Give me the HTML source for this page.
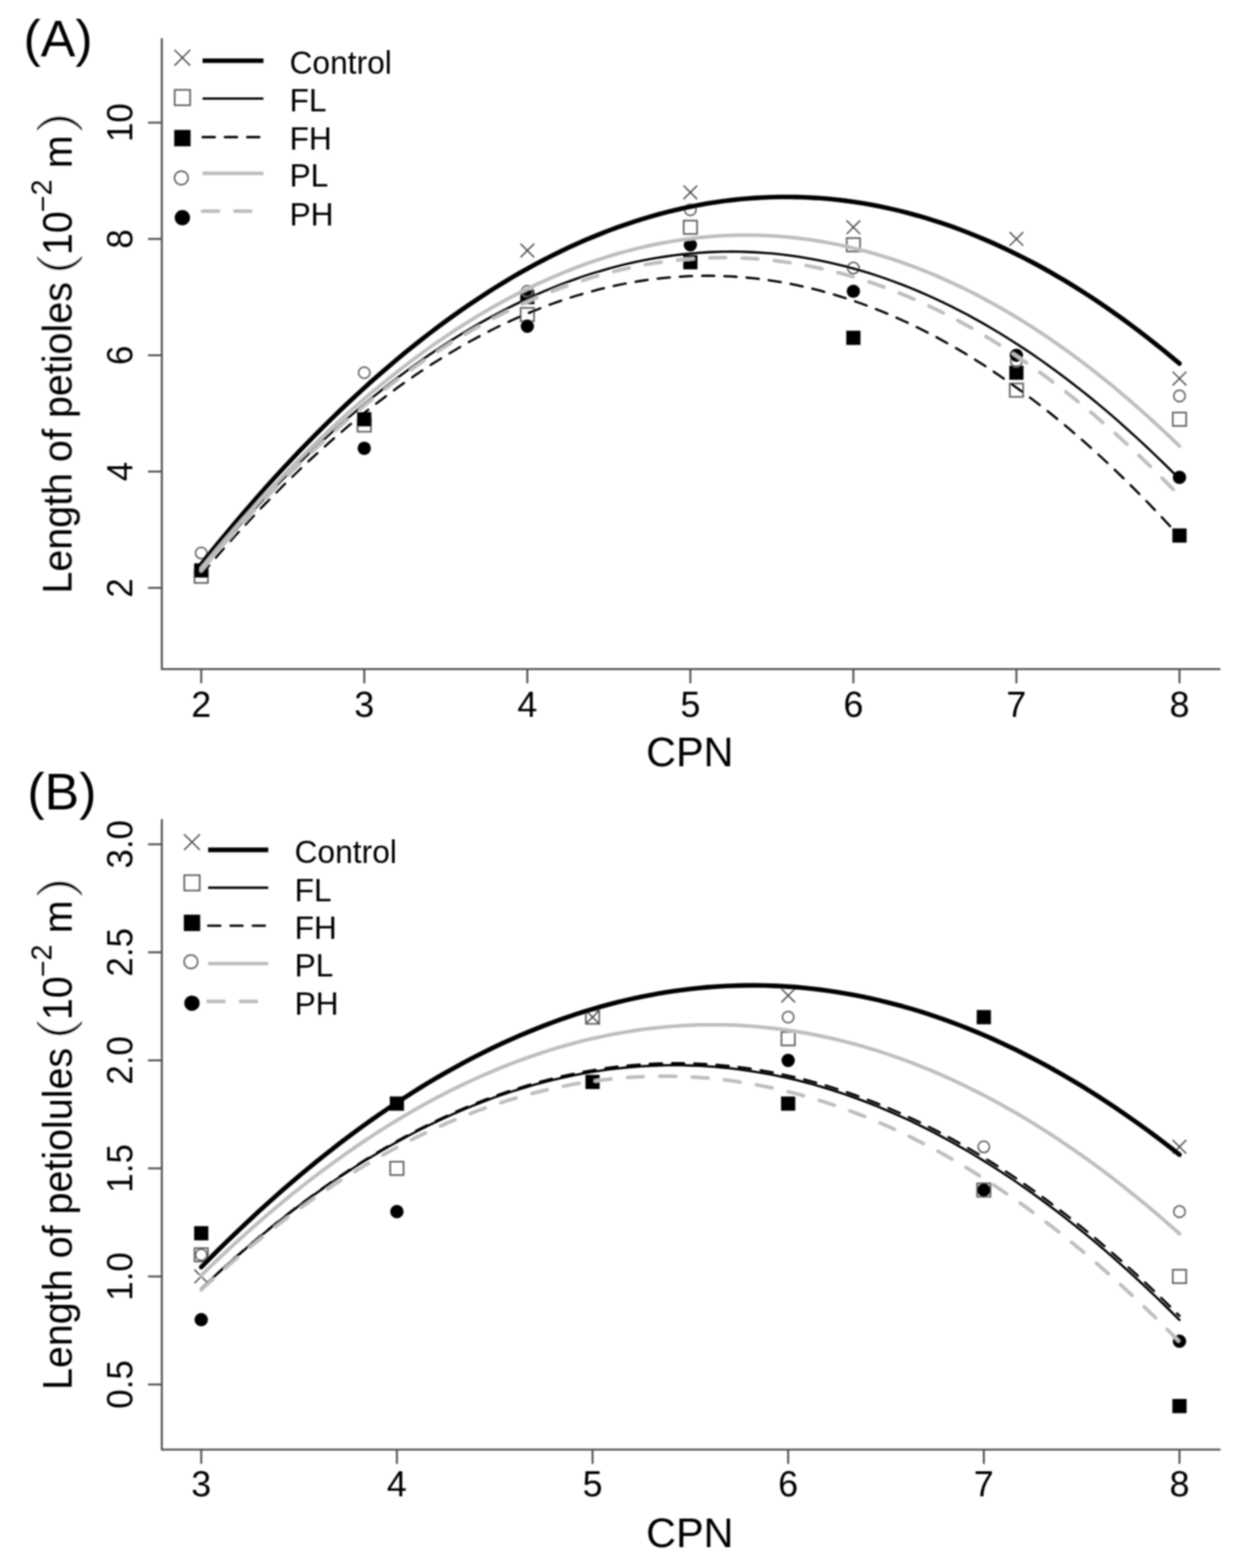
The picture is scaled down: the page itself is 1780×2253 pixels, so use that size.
<!DOCTYPE html><html><head><meta charset="utf-8"><title>Length of petioles and petiolules vs CPN</title><style>html,body{margin:0;padding:0;background:#fff;}svg{display:block;}text{font-family:"Liberation Sans", Arial, Helvetica, sans-serif;fill:#000;}</style></head><body>
<svg width="1780" height="2253" viewBox="0 0 1780 2253">
<defs><filter id="soft" filterUnits="userSpaceOnUse" x="0" y="0" width="1780" height="2253"><feGaussianBlur stdDeviation="1.0"/></filter></defs>
<rect width="1780" height="2253" fill="#fff"/>
<g filter="url(#soft)">
<g id="panelA">
<path d="M232.5,56.3V961.3H1752.0" stroke="#505050" stroke-width="2.8" fill="none" stroke-linecap="square"/>
<path d="M232.5,844.7H212.7" stroke="#505050" stroke-width="2.8"/>
<path d="M232.5,677.6H212.7" stroke="#505050" stroke-width="2.8"/>
<path d="M232.5,510.5H212.7" stroke="#505050" stroke-width="2.8"/>
<path d="M232.5,343.3H212.7" stroke="#505050" stroke-width="2.8"/>
<path d="M232.5,176.2H212.7" stroke="#505050" stroke-width="2.8"/>
<path d="M289.1,961.3V981.8" stroke="#505050" stroke-width="2.8"/>
<path d="M523.3,961.3V981.8" stroke="#505050" stroke-width="2.8"/>
<path d="M757.6,961.3V981.8" stroke="#505050" stroke-width="2.8"/>
<path d="M991.8,961.3V981.8" stroke="#505050" stroke-width="2.8"/>
<path d="M1226.0,961.3V981.8" stroke="#505050" stroke-width="2.8"/>
<path d="M1460.2,961.3V981.8" stroke="#505050" stroke-width="2.8"/>
<path d="M1694.5,961.3V981.8" stroke="#505050" stroke-width="2.8"/>
<text x="289.1" y="1029.6" font-size="51.5" text-anchor="middle">2</text>
<text x="523.3" y="1029.6" font-size="51.5" text-anchor="middle">3</text>
<text x="757.6" y="1029.6" font-size="51.5" text-anchor="middle">4</text>
<text x="991.8" y="1029.6" font-size="51.5" text-anchor="middle">5</text>
<text x="1226.0" y="1029.6" font-size="51.5" text-anchor="middle">6</text>
<text x="1460.2" y="1029.6" font-size="51.5" text-anchor="middle">7</text>
<text x="1694.5" y="1029.6" font-size="51.5" text-anchor="middle">8</text>
<text transform="translate(189.6,844.7) rotate(-90) scale(0.965,1.01)" font-size="52" text-anchor="middle">2</text>
<text transform="translate(189.6,677.6) rotate(-90) scale(0.965,1.01)" font-size="52" text-anchor="middle">4</text>
<text transform="translate(189.6,510.5) rotate(-90) scale(0.965,1.01)" font-size="52" text-anchor="middle">6</text>
<text transform="translate(189.6,343.3) rotate(-90) scale(0.965,1.01)" font-size="52" text-anchor="middle">8</text>
<text transform="translate(189.6,176.2) rotate(-90) scale(0.965,1.01)" font-size="52" text-anchor="middle">10</text>
<text x="991" y="1100.6" font-size="59.5" text-anchor="middle">CPN</text>
<text transform="translate(102.8,852.9) rotate(-90) scale(1.0,1.04)" font-size="56.7">Length of petioles</text>
<text transform="translate(104.2,395.6) rotate(-90) scale(1.3,1.0)" font-size="73" stroke="#fff" stroke-width="2.2">(</text>
<text transform="translate(102.6,366.5) rotate(-90) scale(1.0,1.03)" font-size="56.7">10</text>
<text transform="translate(76.4,304.9) rotate(-90) scale(1.0,1.03)" font-size="41">−</text>
<text transform="translate(73.9,280.7) rotate(-90) scale(1.0,1.03)" font-size="41">2</text>
<text transform="translate(103.0,241.7) rotate(-90) scale(1.0,1.04)" font-size="56.7">m</text>
<text transform="translate(104.2,191.8) rotate(-90) scale(1.3,1.0)" font-size="73" stroke="#fff" stroke-width="2.2">)</text>
<text x="33.8" y="81.0" font-size="74.5">(A)</text>
<path d="M747.8,350.2L767.4,369.8M747.8,369.8L767.4,350.2" stroke="#4a4a4a" stroke-width="2.0" fill="none"/>
<path d="M982.0,266.7L1001.6,286.3M982.0,286.3L1001.6,266.7" stroke="#4a4a4a" stroke-width="2.0" fill="none"/>
<path d="M1216.2,316.8L1235.8,336.4M1216.2,336.4L1235.8,316.8" stroke="#4a4a4a" stroke-width="2.0" fill="none"/>
<path d="M1450.5,333.5L1470.0,353.1M1450.5,353.1L1470.0,333.5" stroke="#4a4a4a" stroke-width="2.0" fill="none"/>
<path d="M1684.7,534.1L1704.3,553.7M1684.7,553.7L1704.3,534.1" stroke="#4a4a4a" stroke-width="2.0" fill="none"/>
<rect x="279.5" y="818.4" width="19.2" height="19.2" stroke="#606060" stroke-width="2.4" fill="none"/>
<rect x="513.7" y="601.1" width="19.2" height="19.2" stroke="#606060" stroke-width="2.4" fill="none"/>
<rect x="748.0" y="442.4" width="19.2" height="19.2" stroke="#606060" stroke-width="2.4" fill="none"/>
<rect x="982.2" y="317.0" width="19.2" height="19.2" stroke="#606060" stroke-width="2.4" fill="none"/>
<rect x="1216.4" y="342.1" width="19.2" height="19.2" stroke="#606060" stroke-width="2.4" fill="none"/>
<rect x="1450.7" y="551.0" width="19.2" height="19.2" stroke="#606060" stroke-width="2.4" fill="none"/>
<rect x="1684.9" y="592.8" width="19.2" height="19.2" stroke="#606060" stroke-width="2.4" fill="none"/>
<rect x="278.9" y="809.4" width="20.4" height="20.4" fill="#000"/>
<rect x="513.1" y="592.2" width="20.4" height="20.4" fill="#000"/>
<rect x="747.4" y="416.7" width="20.4" height="20.4" fill="#000"/>
<rect x="981.6" y="366.6" width="20.4" height="20.4" fill="#000"/>
<rect x="1215.8" y="475.2" width="20.4" height="20.4" fill="#000"/>
<rect x="1450.0" y="525.3" width="20.4" height="20.4" fill="#000"/>
<rect x="1684.3" y="759.3" width="20.4" height="20.4" fill="#000"/>
<circle cx="289.1" cy="794.6" r="8.2" stroke="#606060" stroke-width="2.2" fill="none"/>
<circle cx="523.3" cy="535.5" r="8.2" stroke="#606060" stroke-width="2.2" fill="none"/>
<circle cx="757.6" cy="418.5" r="8.2" stroke="#606060" stroke-width="2.2" fill="none"/>
<circle cx="991.8" cy="301.5" r="8.2" stroke="#606060" stroke-width="2.2" fill="none"/>
<circle cx="1226.0" cy="385.1" r="8.2" stroke="#606060" stroke-width="2.2" fill="none"/>
<circle cx="1460.2" cy="518.8" r="8.2" stroke="#606060" stroke-width="2.2" fill="none"/>
<circle cx="1694.5" cy="568.9" r="8.2" stroke="#606060" stroke-width="2.2" fill="none"/>
<circle cx="289.1" cy="819.6" r="9.6" fill="#000"/>
<circle cx="523.3" cy="644.1" r="9.6" fill="#000"/>
<circle cx="757.6" cy="468.7" r="9.6" fill="#000"/>
<circle cx="991.8" cy="351.7" r="9.6" fill="#000"/>
<circle cx="1226.0" cy="418.5" r="9.6" fill="#000"/>
<circle cx="1460.2" cy="510.5" r="9.6" fill="#000"/>
<circle cx="1694.5" cy="685.9" r="9.6" fill="#000"/>
<polyline points="289.1,810.7 300.8,796.1 312.5,781.7 324.2,767.5 335.9,753.5 347.7,739.7 359.4,726.1 371.1,712.7 382.8,699.5 394.5,686.5 406.2,673.8 417.9,661.2 429.6,648.8 441.3,636.7 453.1,624.7 464.8,613.0 476.5,601.5 488.2,590.1 499.9,579.0 511.6,568.1 523.3,557.4 535.0,546.8 546.8,536.5 558.5,526.4 570.2,516.5 581.9,506.8 593.6,497.4 605.3,488.1 617.0,479.0 628.7,470.1 640.4,461.5 652.2,453.0 663.9,444.8 675.6,436.7 687.3,428.9 699.0,421.2 710.7,413.8 722.4,406.6 734.1,399.5 745.8,392.7 757.6,386.1 769.3,379.7 781.0,373.5 792.7,367.5 804.4,361.7 816.1,356.1 827.8,350.8 839.5,345.6 851.3,340.6 863.0,335.9 874.7,331.3 886.4,326.9 898.1,322.8 909.8,318.9 921.5,315.1 933.2,311.6 944.9,308.3 956.7,305.1 968.4,302.2 980.1,299.5 991.8,297.0 1003.5,294.7 1015.2,292.6 1026.9,290.7 1038.6,289.0 1050.3,287.6 1062.1,286.3 1073.8,285.2 1085.5,284.4 1097.2,283.7 1108.9,283.2 1120.6,283.0 1132.3,283.0 1144.0,283.1 1155.8,283.5 1167.5,284.1 1179.2,284.8 1190.9,285.8 1202.6,287.0 1214.3,288.4 1226.0,290.0 1237.7,291.8 1249.4,293.8 1261.2,296.1 1272.9,298.5 1284.6,301.1 1296.3,303.9 1308.0,307.0 1319.7,310.2 1331.4,313.7 1343.1,317.3 1354.8,321.2 1366.6,325.2 1378.3,329.5 1390.0,334.0 1401.7,338.7 1413.4,343.6 1425.1,348.6 1436.8,353.9 1448.5,359.4 1460.2,365.2 1472.0,371.1 1483.7,377.2 1495.4,383.5 1507.1,390.0 1518.8,396.8 1530.5,403.7 1542.2,410.9 1553.9,418.2 1565.7,425.8 1577.4,433.5 1589.1,441.5 1600.8,449.7 1612.5,458.0 1624.2,466.6 1635.9,475.4 1647.6,484.4 1659.3,493.6 1671.1,503.0 1682.8,512.6 1694.5,522.4" fill="none" stroke="#000" stroke-width="6.6" stroke-linecap="round" stroke-linejoin="round"/>
<polyline points="289.1,818.5 300.8,804.6 312.5,790.8 324.2,777.3 335.9,764.0 347.7,750.9 359.4,738.1 371.1,725.4 382.8,713.0 394.5,700.8 406.2,688.7 417.9,677.0 429.6,665.4 441.3,654.0 453.1,642.9 464.8,632.0 476.5,621.3 488.2,610.8 499.9,600.5 511.6,590.5 523.3,580.6 535.0,571.0 546.8,561.6 558.5,552.4 570.2,543.4 581.9,534.7 593.6,526.1 605.3,517.8 617.0,509.7 628.7,501.8 640.4,494.1 652.2,486.6 663.9,479.4 675.6,472.4 687.3,465.5 699.0,459.0 710.7,452.6 722.4,446.4 734.1,440.5 745.8,434.7 757.6,429.2 769.3,423.9 781.0,418.8 792.7,414.0 804.4,409.3 816.1,404.9 827.8,400.6 839.5,396.6 851.3,392.9 863.0,389.3 874.7,385.9 886.4,382.8 898.1,379.9 909.8,377.2 921.5,374.7 933.2,372.4 944.9,370.3 956.7,368.5 968.4,366.9 980.1,365.5 991.8,364.3 1003.5,363.3 1015.2,362.5 1026.9,362.0 1038.6,361.7 1050.3,361.5 1062.1,361.7 1073.8,362.0 1085.5,362.5 1097.2,363.3 1108.9,364.2 1120.6,365.4 1132.3,366.8 1144.0,368.4 1155.8,370.3 1167.5,372.3 1179.2,374.6 1190.9,377.1 1202.6,379.8 1214.3,382.7 1226.0,385.8 1237.7,389.2 1249.4,392.7 1261.2,396.5 1272.9,400.5 1284.6,404.7 1296.3,409.1 1308.0,413.8 1319.7,418.6 1331.4,423.7 1343.1,429.0 1354.8,434.5 1366.6,440.2 1378.3,446.2 1390.0,452.3 1401.7,458.7 1413.4,465.3 1425.1,472.1 1436.8,479.1 1448.5,486.4 1460.2,493.8 1472.0,501.5 1483.7,509.4 1495.4,517.5 1507.1,525.8 1518.8,534.3 1530.5,543.1 1542.2,552.1 1553.9,561.2 1565.7,570.6 1577.4,580.3 1589.1,590.1 1600.8,600.1 1612.5,610.4 1624.2,620.9 1635.9,631.6 1647.6,642.5 1659.3,653.6 1671.1,665.0 1682.8,676.5 1694.5,688.3" fill="none" stroke="#000" stroke-width="3.3" stroke-linecap="round" stroke-linejoin="round"/>
<polyline points="289.1,825.6 300.8,811.9 312.5,798.4 324.2,785.1 335.9,772.0 347.7,759.2 359.4,746.6 371.1,734.2 382.8,722.0 394.5,710.1 406.2,698.4 417.9,686.9 429.6,675.6 441.3,664.5 453.1,653.7 464.8,643.1 476.5,632.7 488.2,622.6 499.9,612.6 511.6,602.9 523.3,593.4 535.0,584.2 546.8,575.1 558.5,566.3 570.2,557.7 581.9,549.3 593.6,541.2 605.3,533.2 617.0,525.5 628.7,518.1 640.4,510.8 652.2,503.8 663.9,496.9 675.6,490.4 687.3,484.0 699.0,477.8 710.7,471.9 722.4,466.2 734.1,460.8 745.8,455.5 757.6,450.5 769.3,445.7 781.0,441.1 792.7,436.7 804.4,432.6 816.1,428.7 827.8,425.0 839.5,421.5 851.3,418.3 863.0,415.2 874.7,412.4 886.4,409.9 898.1,407.5 909.8,405.4 921.5,403.5 933.2,401.8 944.9,400.3 956.7,399.1 968.4,398.1 980.1,397.3 991.8,396.7 1003.5,396.4 1015.2,396.2 1026.9,396.3 1038.6,396.7 1050.3,397.2 1062.1,398.0 1073.8,399.0 1085.5,400.2 1097.2,401.6 1108.9,403.3 1120.6,405.2 1132.3,407.3 1144.0,409.6 1155.8,412.2 1167.5,414.9 1179.2,417.9 1190.9,421.2 1202.6,424.6 1214.3,428.3 1226.0,432.2 1237.7,436.3 1249.4,440.6 1261.2,445.2 1272.9,449.9 1284.6,455.0 1296.3,460.2 1308.0,465.6 1319.7,471.3 1331.4,477.2 1343.1,483.3 1354.8,489.7 1366.6,496.2 1378.3,503.0 1390.0,510.0 1401.7,517.3 1413.4,524.7 1425.1,532.4 1436.8,540.3 1448.5,548.5 1460.2,556.8 1472.0,565.4 1483.7,574.2 1495.4,583.2 1507.1,592.4 1518.8,601.9 1530.5,611.6 1542.2,621.5 1553.9,631.6 1565.7,642.0 1577.4,652.6 1589.1,663.4 1600.8,674.4 1612.5,685.7 1624.2,697.1 1635.9,708.8 1647.6,720.7 1659.3,732.9 1671.1,745.3 1682.8,757.8 1694.5,770.7" fill="none" stroke="#000" stroke-width="3.3" stroke-linecap="round" stroke-linejoin="round" stroke-dasharray="17.7 14.3"/>
<polyline points="289.1,816.8 300.8,802.6 312.5,788.5 324.2,774.8 335.9,761.2 347.7,747.8 359.4,734.6 371.1,721.7 382.8,709.0 394.5,696.5 406.2,684.2 417.9,672.1 429.6,660.2 441.3,648.6 453.1,637.1 464.8,625.9 476.5,614.9 488.2,604.1 499.9,593.5 511.6,583.2 523.3,573.0 535.0,563.1 546.8,553.4 558.5,543.9 570.2,534.6 581.9,525.5 593.6,516.6 605.3,508.0 617.0,499.5 628.7,491.3 640.4,483.3 652.2,475.5 663.9,468.0 675.6,460.6 687.3,453.4 699.0,446.5 710.7,439.8 722.4,433.3 734.1,427.0 745.8,420.9 757.6,415.1 769.3,409.4 781.0,404.0 792.7,398.8 804.4,393.8 816.1,389.0 827.8,384.4 839.5,380.0 851.3,375.9 863.0,372.0 874.7,368.2 886.4,364.7 898.1,361.4 909.8,358.4 921.5,355.5 933.2,352.9 944.9,350.4 956.7,348.2 968.4,346.2 980.1,344.4 991.8,342.9 1003.5,341.5 1015.2,340.4 1026.9,339.4 1038.6,338.7 1050.3,338.2 1062.1,337.9 1073.8,337.9 1085.5,338.0 1097.2,338.4 1108.9,338.9 1120.6,339.7 1132.3,340.7 1144.0,341.9 1155.8,343.4 1167.5,345.0 1179.2,346.9 1190.9,349.0 1202.6,351.2 1214.3,353.7 1226.0,356.5 1237.7,359.4 1249.4,362.5 1261.2,365.9 1272.9,369.5 1284.6,373.3 1296.3,377.3 1308.0,381.5 1319.7,385.9 1331.4,390.6 1343.1,395.4 1354.8,400.5 1366.6,405.8 1378.3,411.3 1390.0,417.0 1401.7,422.9 1413.4,429.1 1425.1,435.5 1436.8,442.0 1448.5,448.8 1460.2,455.8 1472.0,463.1 1483.7,470.5 1495.4,478.1 1507.1,486.0 1518.8,494.1 1530.5,502.4 1542.2,510.9 1553.9,519.6 1565.7,528.5 1577.4,537.7 1589.1,547.1 1600.8,556.6 1612.5,566.4 1624.2,576.4 1635.9,586.7 1647.6,597.1 1659.3,607.7 1671.1,618.6 1682.8,629.7 1694.5,641.0" fill="none" stroke="#bebebe" stroke-width="5.2" stroke-linecap="round" stroke-linejoin="round"/>
<polyline points="289.1,819.9 300.7,806.1 312.4,792.4 324.0,779.0 335.7,765.8 347.3,752.9 359.0,740.1 370.6,727.5 382.2,715.2 393.9,703.1 405.5,691.2 417.2,679.5 428.8,668.1 440.5,656.8 452.1,645.8 463.7,635.0 475.4,624.4 487.0,614.0 498.7,603.8 510.3,593.9 522.0,584.1 533.6,574.6 545.3,565.3 556.9,556.2 568.5,547.4 580.2,538.7 591.8,530.3 603.5,522.1 615.1,514.1 626.8,506.3 638.4,498.7 650.0,491.3 661.7,484.2 673.3,477.3 685.0,470.6 696.6,464.1 708.3,457.8 719.9,451.8 731.5,445.9 743.2,440.3 754.8,434.9 766.5,429.7 778.1,424.8 789.8,420.0 801.4,415.5 813.0,411.2 824.7,407.0 836.3,403.2 848.0,399.5 859.6,396.0 871.3,392.8 882.9,389.8 894.5,387.0 906.2,384.4 917.8,382.0 929.5,379.8 941.1,377.9 952.8,376.2 964.4,374.7 976.0,373.4 987.7,372.3 999.3,371.5 1011.0,370.8 1022.6,370.4 1034.3,370.2 1045.9,370.2 1057.6,370.4 1069.2,370.9 1080.8,371.5 1092.5,372.4 1104.1,373.5 1115.8,374.8 1127.4,376.3 1139.1,378.1 1150.7,380.0 1162.3,382.2 1174.0,384.6 1185.6,387.2 1197.3,390.0 1208.9,393.0 1220.6,396.3 1232.2,399.8 1243.8,403.5 1255.5,407.4 1267.1,411.5 1278.8,415.8 1290.4,420.4 1302.1,425.2 1313.7,430.1 1325.3,435.3 1337.0,440.8 1348.6,446.4 1360.3,452.3 1371.9,458.3 1383.6,464.6 1395.2,471.1 1406.8,477.8 1418.5,484.8 1430.1,491.9 1441.8,499.3 1453.4,506.9 1465.1,514.7 1476.7,522.7 1488.3,530.9 1500.0,539.4 1511.6,548.1 1523.3,556.9 1534.9,566.0 1546.6,575.4 1558.2,584.9 1569.9,594.6 1581.5,604.6 1593.1,614.8 1604.8,625.2 1616.4,635.8 1628.1,646.6 1639.7,657.7 1651.4,669.0 1663.0,680.4 1674.6,692.1 1686.3,704.1" fill="none" stroke="#bebebe" stroke-width="5.2" stroke-linecap="round" stroke-linejoin="round" stroke-dasharray="22.8 23.7"/>
<path d="M250.7,71.6L273.3,94.2M250.7,94.2L273.3,71.6" stroke="#4a4a4a" stroke-width="2.0" fill="none"/>
<path d="M291.0,87.3H378.5" stroke="#000" stroke-width="6.6" stroke-linecap="butt"/>
<text x="415.9" y="105.8" font-size="45.6">Control</text>
<rect x="251.0" y="129.1" width="22.1" height="22.1" stroke="#606060" stroke-width="2.4" fill="none"/>
<path d="M291.0,141.6H378.5" stroke="#000" stroke-width="3.3" stroke-linecap="butt"/>
<text x="415.9" y="159.5" font-size="45.6">FL</text>
<rect x="250.3" y="186.7" width="23.5" height="23.5" fill="#000"/>
<path d="M291.0,197.0H378.5" stroke="#000" stroke-width="3.3" stroke-linecap="round" stroke-dasharray="17.7 14.3"/>
<text x="415.9" y="215.3" font-size="45.6">FH</text>
<circle cx="260.5" cy="255.6" r="9.8" stroke="#606060" stroke-width="2.2" fill="none"/>
<path d="M291.0,249.1H378.5" stroke="#bebebe" stroke-width="5.2" stroke-linecap="butt"/>
<text x="415.9" y="268.0" font-size="45.6">PL</text>
<circle cx="262.0" cy="312.8" r="11.0" fill="#000"/>
<path d="M291.0,303.3H378.5" stroke="#bebebe" stroke-width="5.2" stroke-linecap="round" stroke-dasharray="22.8 23.7"/>
<text x="415.9" y="323.8" font-size="45.6">PH</text>
</g>
<g id="panelB">
<path d="M232.5,1178.5V2082.9H1752.0" stroke="#505050" stroke-width="2.8" fill="none" stroke-linecap="square"/>
<path d="M232.5,1989.3H212.7" stroke="#505050" stroke-width="2.8"/>
<path d="M232.5,1834.1H212.7" stroke="#505050" stroke-width="2.8"/>
<path d="M232.5,1678.8H212.7" stroke="#505050" stroke-width="2.8"/>
<path d="M232.5,1523.6H212.7" stroke="#505050" stroke-width="2.8"/>
<path d="M232.5,1368.3H212.7" stroke="#505050" stroke-width="2.8"/>
<path d="M232.5,1213.1H212.7" stroke="#505050" stroke-width="2.8"/>
<path d="M289.1,2082.9V2103.4" stroke="#505050" stroke-width="2.8"/>
<path d="M570.2,2082.9V2103.4" stroke="#505050" stroke-width="2.8"/>
<path d="M851.3,2082.9V2103.4" stroke="#505050" stroke-width="2.8"/>
<path d="M1132.3,2082.9V2103.4" stroke="#505050" stroke-width="2.8"/>
<path d="M1413.4,2082.9V2103.4" stroke="#505050" stroke-width="2.8"/>
<path d="M1694.5,2082.9V2103.4" stroke="#505050" stroke-width="2.8"/>
<text x="289.1" y="2150.0" font-size="51.5" text-anchor="middle">3</text>
<text x="570.2" y="2150.0" font-size="51.5" text-anchor="middle">4</text>
<text x="851.3" y="2150.0" font-size="51.5" text-anchor="middle">5</text>
<text x="1132.3" y="2150.0" font-size="51.5" text-anchor="middle">6</text>
<text x="1413.4" y="2150.0" font-size="51.5" text-anchor="middle">7</text>
<text x="1694.5" y="2150.0" font-size="51.5" text-anchor="middle">8</text>
<text transform="translate(189.6,1989.3) rotate(-90) scale(0.965,1.01)" font-size="52" text-anchor="middle">0.5</text>
<text transform="translate(189.6,1834.1) rotate(-90) scale(0.965,1.01)" font-size="52" text-anchor="middle">1.0</text>
<text transform="translate(189.6,1678.8) rotate(-90) scale(0.965,1.01)" font-size="52" text-anchor="middle">1.5</text>
<text transform="translate(189.6,1523.6) rotate(-90) scale(0.965,1.01)" font-size="52" text-anchor="middle">2.0</text>
<text transform="translate(189.6,1368.3) rotate(-90) scale(0.965,1.01)" font-size="52" text-anchor="middle">2.5</text>
<text transform="translate(189.6,1213.1) rotate(-90) scale(0.965,1.01)" font-size="52" text-anchor="middle">3.0</text>
<text x="991" y="2223.3" font-size="59.5" text-anchor="middle">CPN</text>
<text transform="translate(102.8,1997.2) rotate(-90) scale(1.0,1.04)" font-size="56.7">Length of petiolules</text>
<text transform="translate(104.2,1494.8) rotate(-90) scale(1.3,1.0)" font-size="73" stroke="#fff" stroke-width="2.2">(</text>
<text transform="translate(102.6,1465.7) rotate(-90) scale(1.0,1.03)" font-size="56.7">10</text>
<text transform="translate(76.4,1404.1) rotate(-90) scale(1.0,1.03)" font-size="41">−</text>
<text transform="translate(73.9,1379.9) rotate(-90) scale(1.0,1.03)" font-size="41">2</text>
<text transform="translate(103.0,1340.9) rotate(-90) scale(1.0,1.04)" font-size="56.7">m</text>
<text transform="translate(104.2,1291.0) rotate(-90) scale(1.3,1.0)" font-size="73" stroke="#fff" stroke-width="2.2">)</text>
<text x="39.2" y="1163.3" font-size="74.5">(B)</text>
<path d="M279.3,1824.3L298.9,1843.9M279.3,1843.9L298.9,1824.3" stroke="#4a4a4a" stroke-width="2.0" fill="none"/>
<path d="M560.4,1575.9L580.0,1595.5M560.4,1595.5L580.0,1575.9" stroke="#4a4a4a" stroke-width="2.0" fill="none"/>
<path d="M841.5,1451.7L861.1,1471.3M841.5,1471.3L861.1,1451.7" stroke="#4a4a4a" stroke-width="2.0" fill="none"/>
<path d="M1122.5,1420.6L1142.1,1440.2M1122.5,1440.2L1142.1,1420.6" stroke="#4a4a4a" stroke-width="2.0" fill="none"/>
<path d="M1684.7,1638.0L1704.3,1657.6M1684.7,1657.6L1704.3,1638.0" stroke="#4a4a4a" stroke-width="2.0" fill="none"/>
<rect x="279.5" y="1793.4" width="19.2" height="19.2" stroke="#606060" stroke-width="2.4" fill="none"/>
<rect x="560.6" y="1669.2" width="19.2" height="19.2" stroke="#606060" stroke-width="2.4" fill="none"/>
<rect x="841.7" y="1451.9" width="19.2" height="19.2" stroke="#606060" stroke-width="2.4" fill="none"/>
<rect x="1122.7" y="1482.9" width="19.2" height="19.2" stroke="#606060" stroke-width="2.4" fill="none"/>
<rect x="1403.8" y="1700.3" width="19.2" height="19.2" stroke="#606060" stroke-width="2.4" fill="none"/>
<rect x="1684.9" y="1824.5" width="19.2" height="19.2" stroke="#606060" stroke-width="2.4" fill="none"/>
<rect x="278.9" y="1761.8" width="20.4" height="20.4" fill="#000"/>
<rect x="560.0" y="1575.5" width="20.4" height="20.4" fill="#000"/>
<rect x="841.1" y="1544.4" width="20.4" height="20.4" fill="#000"/>
<rect x="1122.1" y="1575.5" width="20.4" height="20.4" fill="#000"/>
<rect x="1403.2" y="1451.3" width="20.4" height="20.4" fill="#000"/>
<rect x="1684.3" y="2010.1" width="20.4" height="20.4" fill="#000"/>
<circle cx="289.1" cy="1803.0" r="8.2" stroke="#606060" stroke-width="2.2" fill="none"/>
<circle cx="1132.3" cy="1461.5" r="8.2" stroke="#606060" stroke-width="2.2" fill="none"/>
<circle cx="1413.4" cy="1647.8" r="8.2" stroke="#606060" stroke-width="2.2" fill="none"/>
<circle cx="1694.5" cy="1740.9" r="8.2" stroke="#606060" stroke-width="2.2" fill="none"/>
<circle cx="289.1" cy="1896.2" r="9.6" fill="#000"/>
<circle cx="570.2" cy="1740.9" r="9.6" fill="#000"/>
<circle cx="851.3" cy="1554.6" r="9.6" fill="#000"/>
<circle cx="1132.3" cy="1523.6" r="9.6" fill="#000"/>
<circle cx="1413.4" cy="1709.9" r="9.6" fill="#000"/>
<circle cx="1694.5" cy="1927.2" r="9.6" fill="#000"/>
<polyline points="289.1,1820.7 300.8,1808.9 312.5,1797.1 324.2,1785.6 335.9,1774.3 347.7,1763.1 359.4,1752.1 371.1,1741.2 382.8,1730.6 394.5,1720.1 406.2,1709.8 417.9,1699.7 429.6,1689.8 441.4,1680.0 453.1,1670.4 464.8,1661.0 476.5,1651.8 488.2,1642.7 499.9,1633.8 511.6,1625.1 523.3,1616.6 535.0,1608.3 546.8,1600.1 558.5,1592.1 570.2,1584.3 581.9,1576.7 593.6,1569.2 605.3,1561.9 617.0,1554.8 628.7,1547.9 640.5,1541.1 652.2,1534.6 663.9,1528.2 675.6,1521.9 687.3,1515.9 699.0,1510.0 710.7,1504.3 722.4,1498.8 734.1,1493.5 745.9,1488.3 757.6,1483.4 769.3,1478.6 781.0,1473.9 792.7,1469.5 804.4,1465.2 816.1,1461.1 827.8,1457.2 839.5,1453.5 851.3,1449.9 863.0,1446.5 874.7,1443.3 886.4,1440.3 898.1,1437.4 909.8,1434.7 921.5,1432.2 933.2,1429.9 945.0,1427.8 956.7,1425.8 968.4,1424.0 980.1,1422.4 991.8,1421.0 1003.5,1419.7 1015.2,1418.6 1026.9,1417.7 1038.6,1417.0 1050.4,1416.5 1062.1,1416.1 1073.8,1415.9 1085.5,1415.9 1097.2,1416.0 1108.9,1416.4 1120.6,1416.9 1132.3,1417.6 1144.1,1418.4 1155.8,1419.5 1167.5,1420.7 1179.2,1422.1 1190.9,1423.7 1202.6,1425.4 1214.3,1427.4 1226.0,1429.5 1237.7,1431.8 1249.5,1434.2 1261.2,1436.9 1272.9,1439.7 1284.6,1442.7 1296.3,1445.8 1308.0,1449.2 1319.7,1452.7 1331.4,1456.4 1343.2,1460.3 1354.9,1464.4 1366.6,1468.6 1378.3,1473.0 1390.0,1477.6 1401.7,1482.4 1413.4,1487.3 1425.1,1492.4 1436.8,1497.7 1448.6,1503.2 1460.3,1508.8 1472.0,1514.7 1483.7,1520.7 1495.4,1526.9 1507.1,1533.2 1518.8,1539.8 1530.5,1546.5 1542.2,1553.4 1554.0,1560.4 1565.7,1567.7 1577.4,1575.1 1589.1,1582.7 1600.8,1590.5 1612.5,1598.4 1624.2,1606.6 1635.9,1614.9 1647.7,1623.4 1659.4,1632.0 1671.1,1640.9 1682.8,1649.9 1694.5,1659.1" fill="none" stroke="#000" stroke-width="6.6" stroke-linecap="round" stroke-linejoin="round"/>
<polyline points="289.1,1851.6 300.8,1840.7 312.5,1829.9 324.2,1819.3 335.9,1808.9 347.7,1798.7 359.4,1788.7 371.1,1778.8 382.8,1769.2 394.5,1759.8 406.2,1750.5 417.9,1741.4 429.6,1732.6 441.4,1723.9 453.1,1715.4 464.8,1707.1 476.5,1699.0 488.2,1691.1 499.9,1683.3 511.6,1675.8 523.3,1668.5 535.0,1661.3 546.8,1654.3 558.5,1647.6 570.2,1641.0 581.9,1634.6 593.6,1628.4 605.3,1622.4 617.0,1616.6 628.7,1610.9 640.5,1605.5 652.2,1600.2 663.9,1595.2 675.6,1590.3 687.3,1585.6 699.0,1581.1 710.7,1576.8 722.4,1572.7 734.1,1568.8 745.9,1565.1 757.6,1561.6 769.3,1558.2 781.0,1555.1 792.7,1552.1 804.4,1549.3 816.1,1546.8 827.8,1544.4 839.5,1542.2 851.3,1540.2 863.0,1538.4 874.7,1536.7 886.4,1535.3 898.1,1534.0 909.8,1533.0 921.5,1532.1 933.2,1531.5 945.0,1531.0 956.7,1530.7 968.4,1530.6 980.1,1530.7 991.8,1531.0 1003.5,1531.4 1015.2,1532.1 1026.9,1532.9 1038.6,1534.0 1050.4,1535.2 1062.1,1536.6 1073.8,1538.3 1085.5,1540.1 1097.2,1542.1 1108.9,1544.2 1120.6,1546.6 1132.3,1549.2 1144.1,1551.9 1155.8,1554.9 1167.5,1558.0 1179.2,1561.4 1190.9,1564.9 1202.6,1568.6 1214.3,1572.5 1226.0,1576.6 1237.7,1580.9 1249.5,1585.4 1261.2,1590.0 1272.9,1594.9 1284.6,1599.9 1296.3,1605.2 1308.0,1610.6 1319.7,1616.2 1331.4,1622.0 1343.2,1628.0 1354.9,1634.2 1366.6,1640.6 1378.3,1647.2 1390.0,1653.9 1401.7,1660.9 1413.4,1668.0 1425.1,1675.4 1436.8,1682.9 1448.6,1690.6 1460.3,1698.5 1472.0,1706.6 1483.7,1714.9 1495.4,1723.4 1507.1,1732.1 1518.8,1740.9 1530.5,1750.0 1542.2,1759.2 1554.0,1768.7 1565.7,1778.3 1577.4,1788.1 1589.1,1798.1 1600.8,1808.3 1612.5,1818.7 1624.2,1829.3 1635.9,1840.0 1647.7,1851.0 1659.4,1862.1 1671.1,1873.5 1682.8,1885.0 1694.5,1896.7" fill="none" stroke="#000" stroke-width="3.3" stroke-linecap="round" stroke-linejoin="round"/>
<polyline points="289.1,1851.6 300.8,1840.6 312.5,1829.8 324.2,1819.1 335.9,1808.7 347.7,1798.4 359.4,1788.4 371.1,1778.5 382.8,1768.8 394.5,1759.3 406.2,1750.0 417.9,1740.9 429.6,1732.0 441.4,1723.2 453.1,1714.7 464.8,1706.4 476.5,1698.2 488.2,1690.2 499.9,1682.4 511.6,1674.9 523.3,1667.5 535.0,1660.3 546.8,1653.2 558.5,1646.4 570.2,1639.8 581.9,1633.3 593.6,1627.1 605.3,1621.0 617.0,1615.2 628.7,1609.5 640.5,1604.0 652.2,1598.7 663.9,1593.6 675.6,1588.7 687.3,1583.9 699.0,1579.4 710.7,1575.0 722.4,1570.9 734.1,1566.9 745.9,1563.2 757.6,1559.6 769.3,1556.2 781.0,1553.0 792.7,1550.0 804.4,1547.1 816.1,1544.5 827.8,1542.1 839.5,1539.8 851.3,1537.8 863.0,1535.9 874.7,1534.2 886.4,1532.7 898.1,1531.4 909.8,1530.3 921.5,1529.4 933.2,1528.7 945.0,1528.2 956.7,1527.8 968.4,1527.7 980.1,1527.7 991.8,1528.0 1003.5,1528.4 1015.2,1529.0 1026.9,1529.8 1038.6,1530.8 1050.4,1532.0 1062.1,1533.3 1073.8,1534.9 1085.5,1536.7 1097.2,1538.6 1108.9,1540.7 1120.6,1543.1 1132.3,1545.6 1144.1,1548.3 1155.8,1551.2 1167.5,1554.3 1179.2,1557.6 1190.9,1561.0 1202.6,1564.7 1214.3,1568.6 1226.0,1572.6 1237.7,1576.8 1249.5,1581.3 1261.2,1585.9 1272.9,1590.7 1284.6,1595.7 1296.3,1600.9 1308.0,1606.2 1319.7,1611.8 1331.4,1617.6 1343.2,1623.5 1354.9,1629.7 1366.6,1636.0 1378.3,1642.5 1390.0,1649.2 1401.7,1656.1 1413.4,1663.2 1425.1,1670.5 1436.8,1678.0 1448.6,1685.7 1460.3,1693.5 1472.0,1701.6 1483.7,1709.8 1495.4,1718.2 1507.1,1726.9 1518.8,1735.7 1530.5,1744.7 1542.2,1753.9 1554.0,1763.3 1565.7,1772.8 1577.4,1782.6 1589.1,1792.5 1600.8,1802.7 1612.5,1813.0 1624.2,1823.6 1635.9,1834.3 1647.7,1845.2 1659.4,1856.3 1671.1,1867.6 1682.8,1879.1 1694.5,1890.7" fill="none" stroke="#000" stroke-width="3.3" stroke-linecap="round" stroke-linejoin="round" stroke-dasharray="17.7 14.3"/>
<polyline points="289.1,1832.6 300.8,1821.2 312.5,1810.0 324.2,1799.0 335.9,1788.1 347.7,1777.5 359.4,1767.0 371.1,1756.7 382.8,1746.6 394.5,1736.7 406.2,1726.9 417.9,1717.3 429.6,1708.0 441.4,1698.8 453.1,1689.8 464.8,1680.9 476.5,1672.3 488.2,1663.8 499.9,1655.6 511.6,1647.5 523.3,1639.5 535.0,1631.8 546.8,1624.3 558.5,1616.9 570.2,1609.7 581.9,1602.7 593.6,1595.9 605.3,1589.3 617.0,1582.8 628.7,1576.6 640.5,1570.5 652.2,1564.6 663.9,1558.9 675.6,1553.3 687.3,1548.0 699.0,1542.8 710.7,1537.8 722.4,1533.0 734.1,1528.4 745.9,1524.0 757.6,1519.7 769.3,1515.7 781.0,1511.8 792.7,1508.1 804.4,1504.6 816.1,1501.2 827.8,1498.1 839.5,1495.1 851.3,1492.3 863.0,1489.7 874.7,1487.3 886.4,1485.0 898.1,1483.0 909.8,1481.1 921.5,1479.4 933.2,1477.9 945.0,1476.6 956.7,1475.5 968.4,1474.5 980.1,1473.7 991.8,1473.1 1003.5,1472.7 1015.2,1472.5 1026.9,1472.5 1038.6,1472.6 1050.4,1472.9 1062.1,1473.4 1073.8,1474.1 1085.5,1475.0 1097.2,1476.1 1108.9,1477.3 1120.6,1478.7 1132.3,1480.3 1144.1,1482.1 1155.8,1484.1 1167.5,1486.2 1179.2,1488.6 1190.9,1491.1 1202.6,1493.8 1214.3,1496.7 1226.0,1499.8 1237.7,1503.0 1249.5,1506.5 1261.2,1510.1 1272.9,1513.9 1284.6,1517.9 1296.3,1522.0 1308.0,1526.4 1319.7,1530.9 1331.4,1535.6 1343.2,1540.5 1354.9,1545.6 1366.6,1550.9 1378.3,1556.3 1390.0,1562.0 1401.7,1567.8 1413.4,1573.8 1425.1,1580.0 1436.8,1586.3 1448.6,1592.9 1460.3,1599.6 1472.0,1606.5 1483.7,1613.6 1495.4,1620.9 1507.1,1628.4 1518.8,1636.0 1530.5,1643.8 1542.2,1651.9 1554.0,1660.0 1565.7,1668.4 1577.4,1677.0 1589.1,1685.7 1600.8,1694.7 1612.5,1703.8 1624.2,1713.1 1635.9,1722.5 1647.7,1732.2 1659.4,1742.0 1671.1,1752.1 1682.8,1762.3 1694.5,1772.7" fill="none" stroke="#bebebe" stroke-width="5.2" stroke-linecap="round" stroke-linejoin="round"/>
<polyline points="289.1,1853.3 300.8,1842.6 312.5,1832.1 324.2,1821.7 335.9,1811.6 347.7,1801.6 359.4,1791.8 371.1,1782.3 382.8,1772.9 394.5,1763.7 406.2,1754.7 417.9,1745.8 429.6,1737.2 441.4,1728.8 453.1,1720.5 464.8,1712.5 476.5,1704.6 488.2,1696.9 499.9,1689.4 511.6,1682.2 523.3,1675.1 535.0,1668.1 546.8,1661.4 558.5,1654.9 570.2,1648.6 581.9,1642.4 593.6,1636.4 605.3,1630.7 617.0,1625.1 628.7,1619.7 640.5,1614.5 652.2,1609.5 663.9,1604.7 675.6,1600.1 687.3,1595.6 699.0,1591.4 710.7,1587.4 722.4,1583.5 734.1,1579.8 745.9,1576.3 757.6,1573.1 769.3,1570.0 781.0,1567.1 792.7,1564.3 804.4,1561.8 816.1,1559.5 827.8,1557.3 839.5,1555.4 851.3,1553.6 863.0,1552.1 874.7,1550.7 886.4,1549.5 898.1,1548.5 909.8,1547.7 921.5,1547.1 933.2,1546.6 945.0,1546.4 956.7,1546.4 968.4,1546.5 980.1,1546.8 991.8,1547.4 1003.5,1548.1 1015.2,1549.0 1026.9,1550.1 1038.6,1551.4 1050.4,1552.9 1062.1,1554.5 1073.8,1556.4 1085.5,1558.5 1097.2,1560.7 1108.9,1563.1 1120.6,1565.8 1132.3,1568.6 1144.1,1571.6 1155.8,1574.8 1167.5,1578.2 1179.2,1581.7 1190.9,1585.5 1202.6,1589.5 1214.3,1593.6 1226.0,1598.0 1237.7,1602.5 1249.5,1607.2 1261.2,1612.1 1272.9,1617.2 1284.6,1622.5 1296.3,1628.0 1308.0,1633.7 1319.7,1639.6 1331.4,1645.6 1343.2,1651.9 1354.9,1658.3 1366.6,1665.0 1378.3,1671.8 1390.0,1678.8 1401.7,1686.0 1413.4,1693.4 1425.1,1701.0 1436.8,1708.8 1448.6,1716.7 1460.3,1724.9 1472.0,1733.2 1483.7,1741.8 1495.4,1750.5 1507.1,1759.4 1518.8,1768.5 1530.5,1777.8 1542.2,1787.3 1554.0,1797.0 1565.7,1806.9 1577.4,1816.9 1589.1,1827.2 1600.8,1837.6 1612.5,1848.3 1624.2,1859.1 1635.9,1870.1 1647.7,1881.3 1659.4,1892.7 1671.1,1904.3 1682.8,1916.1 1694.5,1928.1" fill="none" stroke="#bebebe" stroke-width="5.2" stroke-linecap="round" stroke-linejoin="round" stroke-dasharray="22.8 23.7"/>
<path d="M264.5,1198.7L287.1,1221.3M264.5,1221.3L287.1,1198.7" stroke="#4a4a4a" stroke-width="2.0" fill="none"/>
<path d="M299.0,1221.1H385.4" stroke="#000" stroke-width="6.6" stroke-linecap="butt"/>
<text x="423.2" y="1240.1" font-size="45.6">Control</text>
<rect x="264.8" y="1257.5" width="22.1" height="22.1" stroke="#606060" stroke-width="2.4" fill="none"/>
<path d="M299.0,1275.5H385.4" stroke="#000" stroke-width="3.3" stroke-linecap="butt"/>
<text x="423.2" y="1294.9" font-size="45.6">FL</text>
<rect x="264.1" y="1314.3" width="23.5" height="23.5" fill="#000"/>
<path d="M299.0,1330.1H385.4" stroke="#000" stroke-width="3.3" stroke-linecap="round" stroke-dasharray="17.7 14.3"/>
<text x="423.2" y="1348.6" font-size="45.6">FH</text>
<circle cx="274.3" cy="1381.9" r="9.8" stroke="#606060" stroke-width="2.2" fill="none"/>
<path d="M299.0,1384.5H385.4" stroke="#bebebe" stroke-width="5.2" stroke-linecap="butt"/>
<text x="423.2" y="1403.4" font-size="45.6">PL</text>
<circle cx="275.8" cy="1441.4" r="11.0" fill="#000"/>
<path d="M299.0,1438.9H385.4" stroke="#bebebe" stroke-width="5.2" stroke-linecap="round" stroke-dasharray="22.8 23.7"/>
<text x="423.2" y="1458.2" font-size="45.6">PH</text>
</g>
</g>
</svg></body></html>
